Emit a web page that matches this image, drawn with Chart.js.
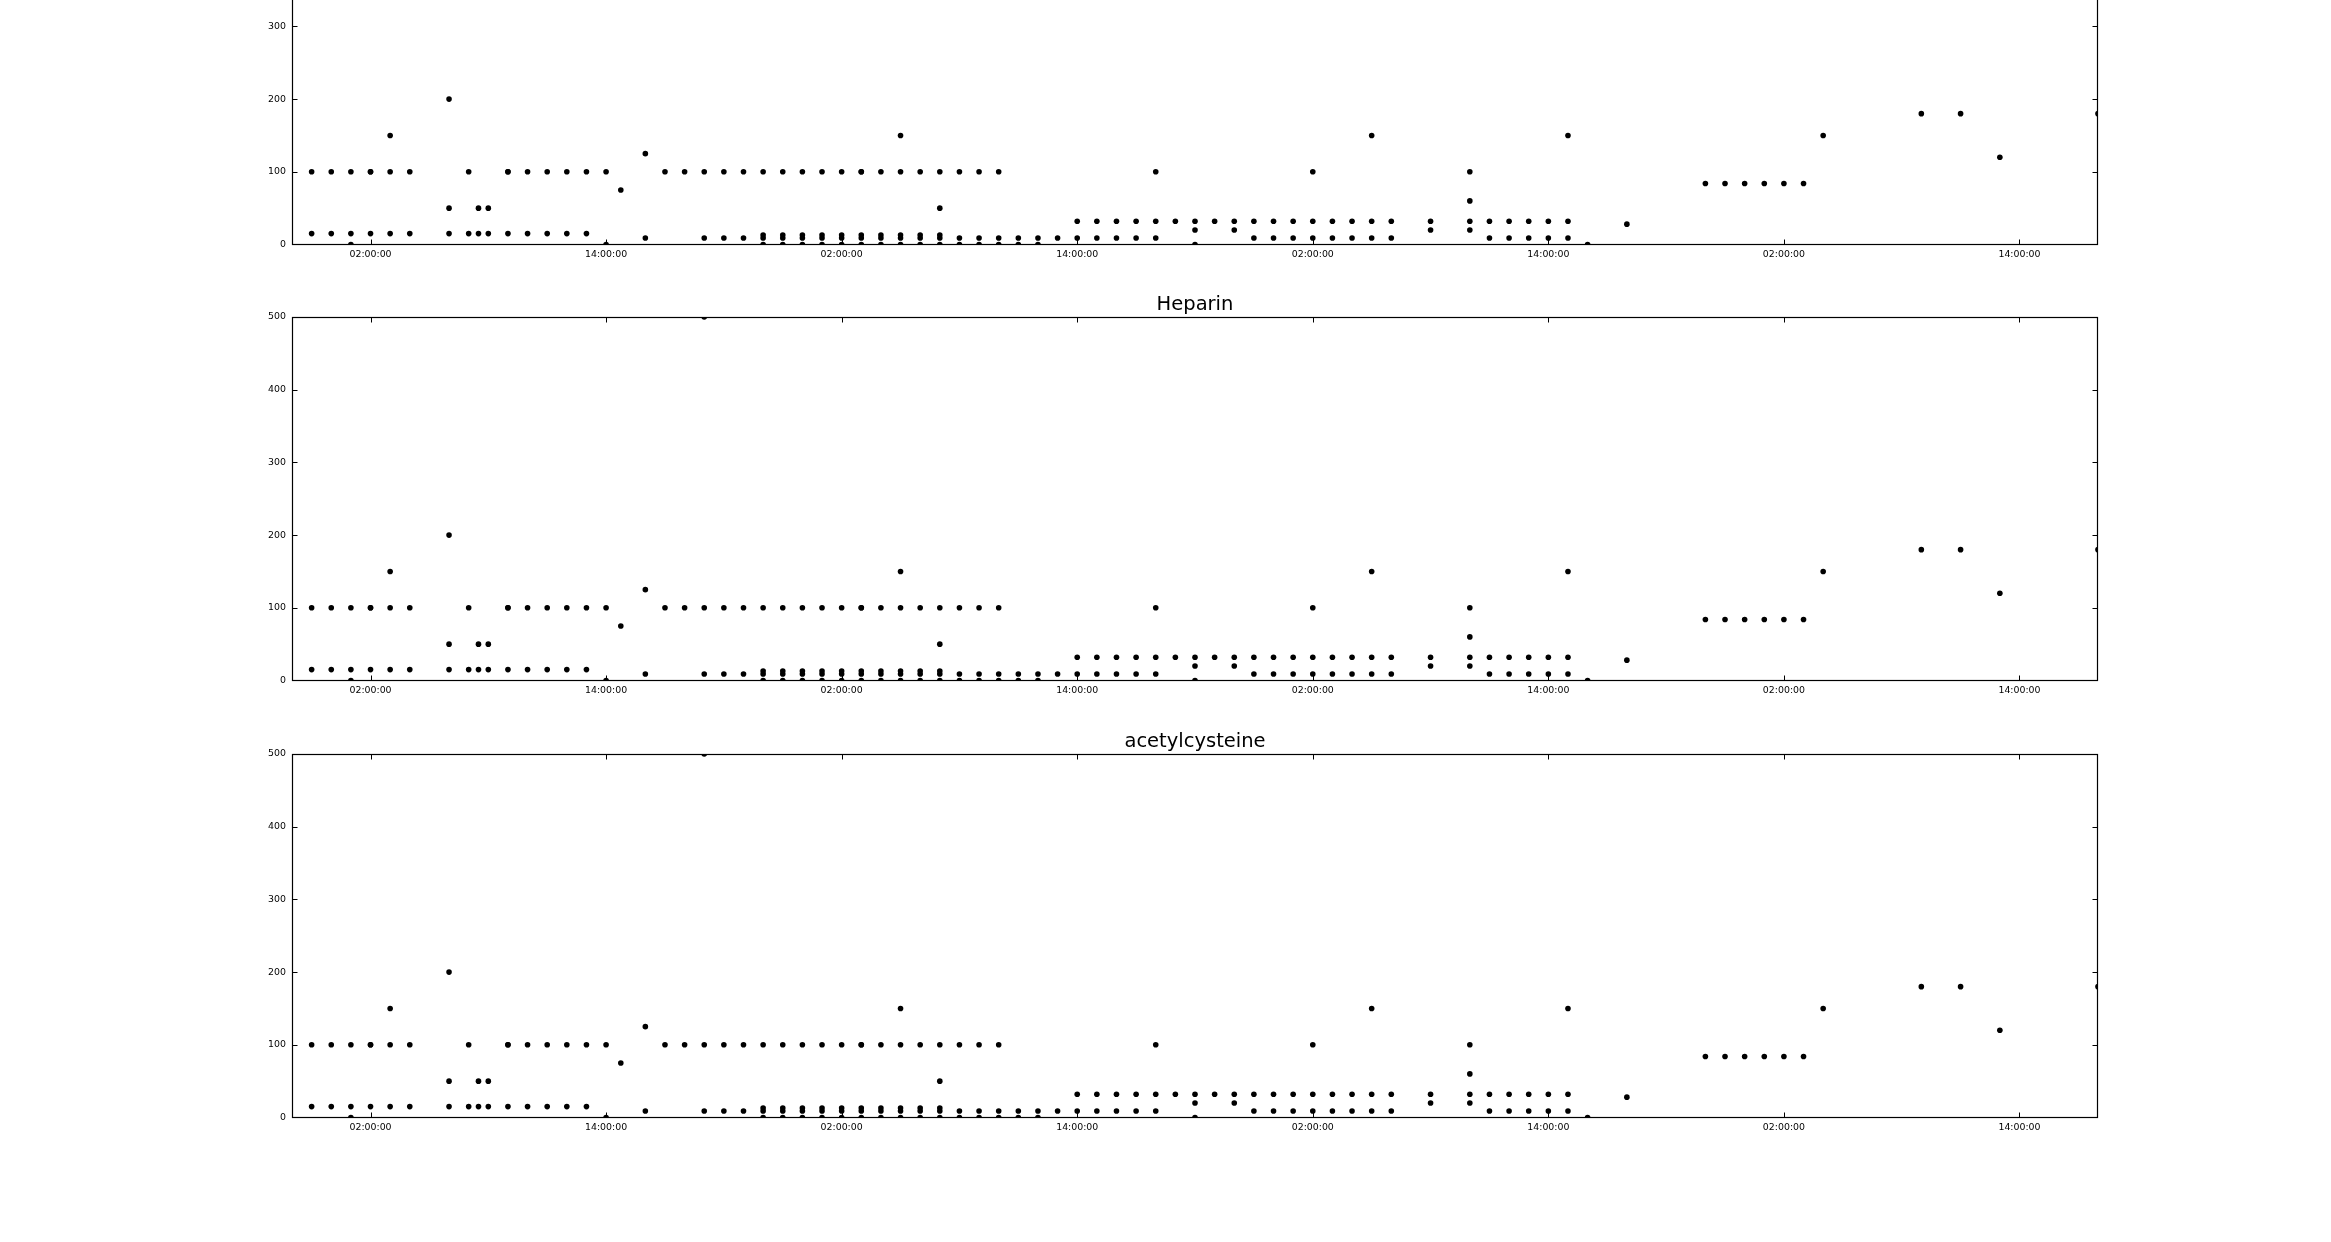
<!DOCTYPE html>
<html><head><meta charset="utf-8">
<script src="https://cdn.jsdelivr.net/npm/chart.js@4.4.1/dist/chart.umd.min.js"></script>
<style>
html,body{margin:0;padding:0;background:#fff;width:2331px;height:1242px;overflow:hidden;position:relative}
canvas{position:absolute;left:0}
</style></head><body>
<canvas id="c1" width="2331" height="434" style="top:-159px"></canvas>
<canvas id="c2" width="2331" height="434" style="top:277px"></canvas>
<canvas id="c3" width="2331" height="434" style="top:714px"></canvas>
<script>
// Panel titles (the first panel's title lies above the visible window)
const panelTitles = ['', 'Heparin', 'acetylcysteine'];

// x axis: hours counted from 22:00:00 on the first day
const xMinHour = 0;
const xMaxHour = 92;
const tickHours = [4, 16, 28, 40, 52, 64, 76, 88];
const tickLabels = ['02:00:00', '14:00:00', '02:00:00', '14:00:00', '02:00:00', '14:00:00', '02:00:00', '14:00:00'];
const yTicks = [0, 100, 200, 300, 400, 500];

// Hours (from 22:00) at which each dose value was recorded
const hoursAt500 = [21];
const hoursAt200 = [8];
const hoursAt180 = [83, 85, 92];
const hoursAt150 = [5, 31, 55, 65, 78];
const hoursAt125 = [18];
const hoursAt120 = [87];
const hoursAt100 = [1, 2, 3, 4, 4, 5, 6, 9, 11, 11, 12, 13, 14, 15, 16, 19, 20, 21, 22, 23, 24, 25, 26, 27, 28, 29, 29, 30, 31, 32, 33, 34, 35, 36, 44, 52, 60];
const hoursAt84 = [72, 73, 74, 75, 76, 77];
const hoursAt75 = [16.75];
const hoursAt60 = [60];
const hoursAt50 = [8, 9.5, 10, 33];
const hoursAt32 = [40, 41, 42, 43, 44, 45, 46, 47, 48, 49, 50, 51, 52, 53, 54, 55, 56, 58, 60, 61, 62, 63, 64, 65];
const hoursAt28 = [68];
const hoursAt20 = [46, 48, 58, 60];
const hoursAt15 = [1, 2, 3, 4, 5, 6, 8, 9, 9.5, 10, 11, 12, 13, 14, 15];
const hoursAt13 = [24, 25, 26, 27, 28, 29, 30, 31, 32, 33];
const hoursAt9 = [18, 21, 22, 23, 24, 25, 26, 27, 28, 29, 30, 31, 32, 33, 34, 35, 36, 37, 38, 39, 40, 41, 42, 43, 44, 49, 50, 51, 52, 53, 54, 55, 56, 61, 62, 63, 64, 65];
const hoursAt0 = [3, 16, 24, 25, 26, 27, 28, 29, 30, 31, 32, 33, 34, 35, 36, 37, 38, 46, 66];

const doseLevels = [500, 200, 180, 150, 125, 120, 100, 84, 75, 60, 50, 32, 28, 20, 15, 13, 9, 0];
const hoursByLevel = [hoursAt500, hoursAt200, hoursAt180, hoursAt150, hoursAt125, hoursAt120, hoursAt100, hoursAt84, hoursAt75, hoursAt60, hoursAt50, hoursAt32, hoursAt28, hoursAt20, hoursAt15, hoursAt13, hoursAt9, hoursAt0];

const points = [];
doseLevels.forEach((v, i) => hoursByLevel[i].forEach(h => points.push({x: h, y: v})));

Chart.defaults.font.family = 'DejaVu Sans';
Chart.defaults.color = '#000';

const framePlugin = {
  id: 'frame',
  afterDatasetsDraw(chart) {
    const {ctx, chartArea: a, scales: {x, y}} = chart;
    const L = Math.round(a.left) + 0.5, R = Math.round(a.right) - 0.5;
    const T = Math.round(a.top) + 0.5, B = Math.round(a.bottom) - 0.5;
    ctx.save();
    ctx.strokeStyle = '#000';
    ctx.lineWidth = 1.2;
    ctx.strokeRect(L, T, R - L, B - T);
    const len = 5;
    ctx.beginPath();
    x.ticks.forEach(t => {
      if (t.value <= x.min || t.value >= x.max) return;
      const px = Math.round(x.getPixelForValue(t.value)) + 0.5;
      ctx.moveTo(px, B); ctx.lineTo(px, B - len);
      ctx.moveTo(px, T); ctx.lineTo(px, T + len);
    });
    y.ticks.forEach(t => {
      if (t.value <= y.min || t.value >= y.max) return;
      const py = Math.round(y.getPixelForValue(t.value)) + 0.5;
      ctx.moveTo(L, py); ctx.lineTo(L + len, py);
      ctx.moveTo(R, py); ctx.lineTo(R - len, py);
    });
    ctx.lineWidth = 1;
    ctx.stroke();
    ctx.restore();
  }
};

function makeChart(id, title) {
  const hasTitle = title !== '';
  new Chart(document.getElementById(id), {
    type: 'scatter',
    data: {
      datasets: [{
        data: points,
        pointRadius: 2.8,
        pointBackgroundColor: '#000',
        pointBorderWidth: 0,
        clip: 0
      }]
    },
    options: {
      responsive: false,
      animation: false,
      events: [],
      devicePixelRatio: 1,
      layout: {padding: {left: 0, right: 233, top: hasTitle ? 0 : 40, bottom: 0}},
      plugins: {
        legend: {display: false},
        tooltip: {enabled: false},
        title: {
          display: hasTitle,
          text: title,
          fullSize: false,
          color: '#000',
          font: {family: 'DejaVu Sans', size: 19.5, weight: 'normal', lineHeight: 1.2},
          padding: {top: 16.4, bottom: 0.2}
        }
      },
      scales: {
        x: {
          type: 'linear',
          min: xMinHour,
          max: xMaxHour,
          grid: {display: false, drawTicks: false},
          border: {display: false},
          afterBuildTicks: s => { s.ticks = tickHours.map(v => ({value: v})); },
          afterFit: s => { s.height = 30.5; s.paddingLeft = 0; s.paddingRight = 0; },
          ticks: {
            autoSkip: false, maxRotation: 0, minRotation: 0, padding: 4, color: '#000',
            font: {family: 'DejaVu Sans', size: 9.4},
            callback: (v, i) => tickLabels[i]
          }
        },
        y: {
          type: 'linear',
          min: 0,
          max: 500,
          grid: {display: false, drawTicks: false},
          border: {display: false},
          afterBuildTicks: s => { s.ticks = yTicks.map(v => ({value: v})); },
          afterFit: s => { s.width = 292; s.paddingTop = 0; s.paddingBottom = 0; },
          ticks: {
            padding: 6, color: '#000',
            font: {family: 'DejaVu Sans', size: 9.4}
          }
        }
      }
    },
    plugins: [framePlugin]
  });
}

makeChart('c1', panelTitles[0]);
makeChart('c2', panelTitles[1]);
makeChart('c3', panelTitles[2]);
</script>
</body></html>
